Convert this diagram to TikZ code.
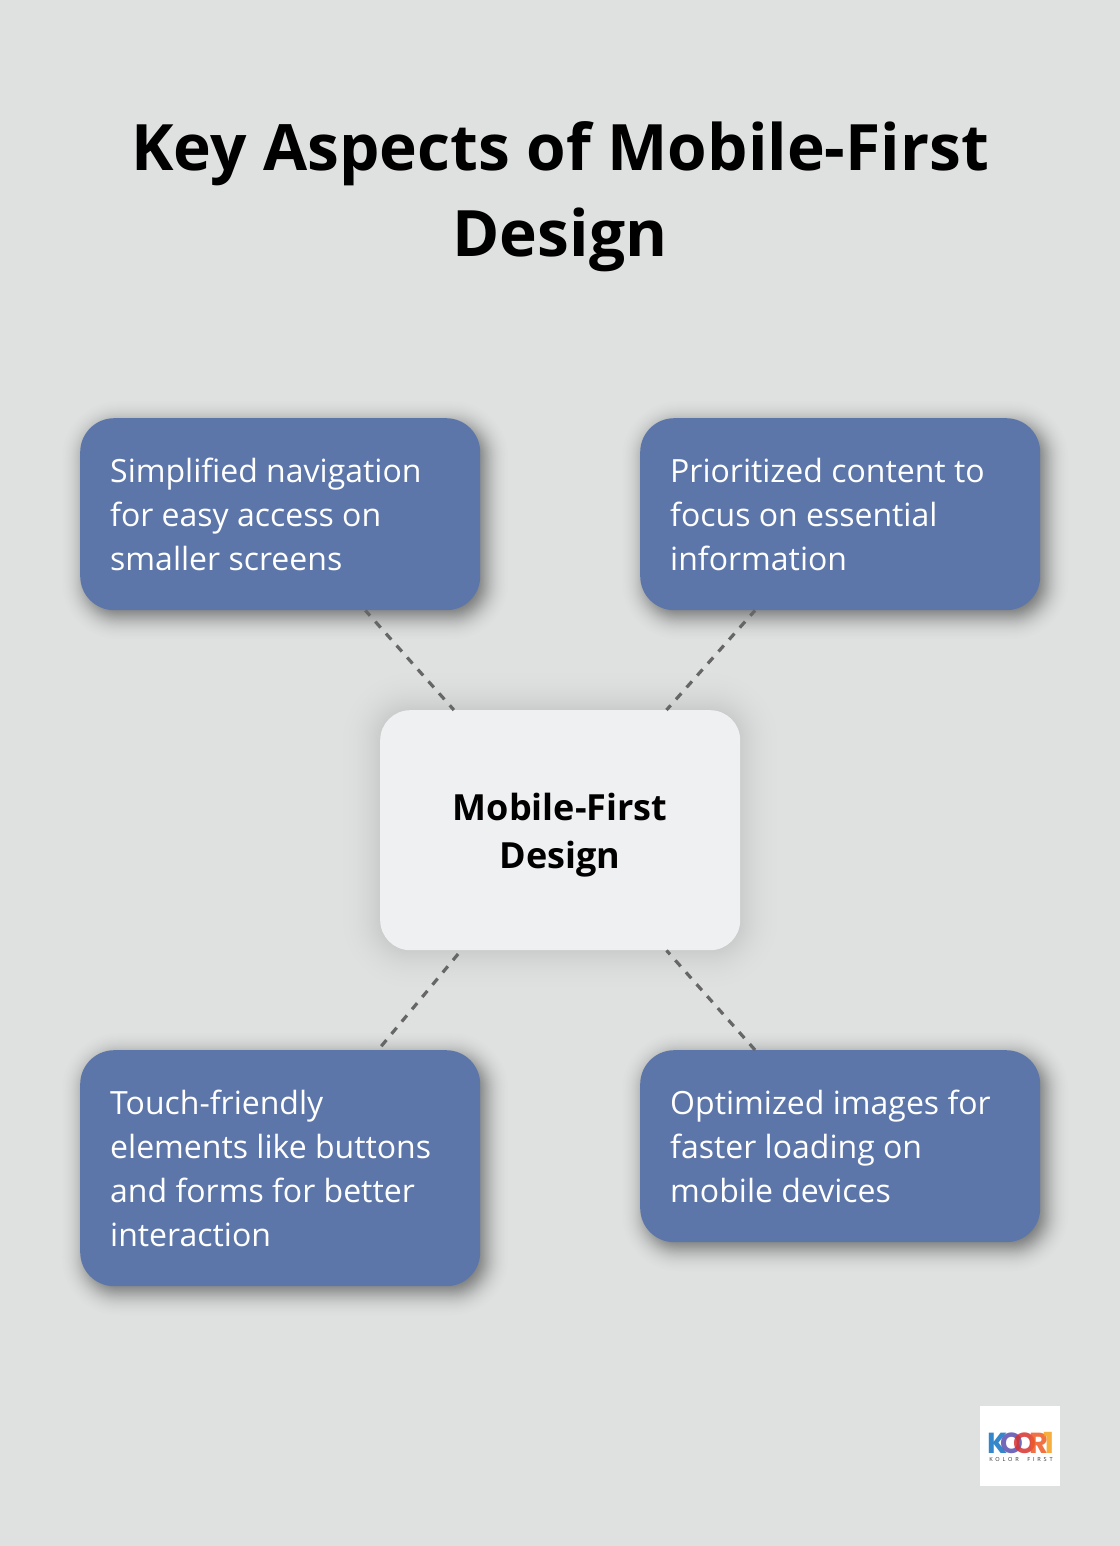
\documentclass[tikz,border=0pt]{standalone}
\usepackage{fontspec}
\setmainfont{Open Sans}
\newfontfamily\logofont{Poppins}
\usetikzlibrary{calc}
\pgfdeclarelayer{bg}
\pgfsetlayers{bg,main}
\definecolor{pagebg}{HTML}{DFE1E0}
\definecolor{cardblue}{HTML}{5D76A9}
\definecolor{centerfill}{HTML}{EFF0F2}
\definecolor{linkgrey}{HTML}{666666}
\definecolor{logoK}{HTML}{1273C4}
\definecolor{logoA}{HTML}{5A4FB0}
\definecolor{logoB}{HTML}{D8322F}
\definecolor{logoC}{HTML}{EE5A24}
\definecolor{logoD}{HTML}{F5A01E}
\newcommand{\cardspaces}{\spaceskip 8.3pt\relax}
\tikzset{
  card/.style={anchor=north west,fill=cardblue,text=white,rounded corners=34pt,inner sep=30pt,
    text width=340pt,align=left,font=\fontsize{32}{44}\selectfont,execute at begin node=\cardspaces},
  hub/.style={anchor=north west,fill=centerfill,text=black,rounded corners=30pt,inner sep=0pt,
    minimum width=360pt,minimum height=240pt,text width=320pt,align=center,
    font=\fontsize{36}{48}\selectfont\bfseries},
  link/.style={draw=linkgrey,line width=3.2pt,dash pattern=on 8pt off 8pt},
  headline/.style={text=black,align=center,font=\fontsize{64}{86}\selectfont\bfseries},
  logoletter/.style={inner sep=0pt,opacity=.85,font=\logofont\fontsize{29}{29}\selectfont\bfseries}
}
\newcommand{\softshadow}[7]{% node, dx, dy, sigma, alpha per step, radius, steps
  \begin{pgfonlayer}{bg}
    \foreach \i in {1,...,#7}{
      \pgfmathsetmacro{\p}{0.03+0.94*(\i-0.5)/#7}
      \pgfmathsetmacro{\e}{ln(\p/(1-\p))/1.7*#4}
      \pgfmathsetmacro{\rr}{max(#6+\e,8)}
      \fill[black,opacity=#5,rounded corners=\rr pt]
        ($(#1.south west)+(#2-\e,#3+\e)$) rectangle
        ($(#1.north east)+(#2+\e,#3-\e)$);
    }
  \end{pgfonlayer}}
\begin{document}
\begin{tikzpicture}[x=1pt,y=-1pt]
  \useasboundingbox (0,0) rectangle (1119.8,1546);
  \begin{pgfonlayer}{bg}
    \fill[pagebg] (-2,-2) rectangle (1122,1548);
  \end{pgfonlayer}
  \node[headline] (title) at (560,197) {Key Aspects of Mobile-First\\Design};
  \node[card,minimum height=192pt] (nav) at (80,418) {Simplified navigation\\for easy access on\\smaller screens};
  \node[card,minimum height=192pt] (content) at (640,418) {Prioritized content to\\focus on essential\\information};
  \node[card,minimum height=236pt] (touch) at (80,1050) {Touch-friendly\\elements like buttons\\and forms for better\\interaction};
  \node[card,minimum height=192pt] (images) at (640,1050) {Optimized images for\\faster loading on\\mobile devices};
  \node[hub] (center) at (380,710) {\rule{0pt}{37pt}Mobile-First\\Design};
  \draw[link,dash phase=1pt] (nav) -- (center);
  \draw[link,dash phase=1pt] (content) -- (center);
  \draw[link,dash phase=11pt] (touch) -- (center);
  \draw[link] (images) -- (center);
  \softshadow{nav}{5}{6}{12}{0.007}{34}{60}
  \softshadow{content}{5}{6}{12}{0.007}{34}{60}
  \softshadow{touch}{5}{6}{12}{0.007}{34}{60}
  \softshadow{images}{5}{6}{12}{0.007}{34}{60}
  \softshadow{center}{0}{0}{20}{0.0056}{30}{40}
  \node[fill=white,minimum size=80pt,inner sep=0pt,anchor=north west] (logobox) at (980,1406) {};
  \node[logoletter,text=logoK] (lk) at (997.5,1443) {K};
  \node[logoletter,text=logoA] (lo1) at (1011.5,1443) {O};
  \node[logoletter,text=logoB] (lo2) at (1024.5,1443) {O};
  \node[logoletter,text=logoC] (lr) at (1039,1443) {R};
  \node[logoletter,text=logoD] (l1) at (1049,1443) {1};
  \node[inner sep=0pt,text=black!80,font=\fontsize{5.6}{6}\selectfont\addfontfeature{LetterSpace=50}] (ltag) at (1021,1459) {KOLOR\ \ FIRST};
\end{tikzpicture}
\end{document}
